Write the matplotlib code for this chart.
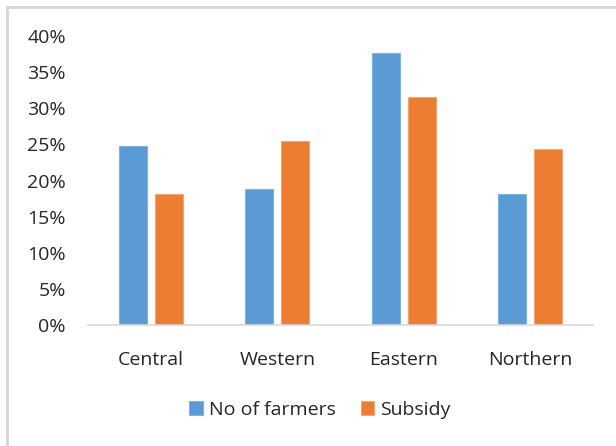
import matplotlib
matplotlib.use("Agg")
import matplotlib.pyplot as plt
import numpy as np
from matplotlib.patches import Rectangle
from matplotlib.ticker import FuncFormatter

categories = ["Central", "Western", "Eastern", "Northern"]
farmers = [0.248, 0.188, 0.376, 0.182]
subsidy = [0.182, 0.255, 0.315, 0.243]
series_names = ["No of farmers", "Subsidy"]
yticks = [0.0, 0.05, 0.10, 0.15, 0.20, 0.25, 0.30, 0.35, 0.40]

blue = "#5B9BD5"
orange = "#ED7D31"

plt.rcParams["font.family"] = ["Open Sans", "DejaVu Sans"]

W, H = 616, 446
fig = plt.figure(figsize=(W / 100, H / 100), dpi=100)

# chart frame (light grey, left and top edges visible)
fig.patches.append(Rectangle((7 / W, -0.1), 1.2, (H - 7) / H + 0.1,
                             transform=fig.transFigure, fill=False,
                             edgecolor="#D9D9D9", linewidth=2.2))

ax = fig.add_axes([88 / W, 1 - 325 / H, (593 - 88) / W, (325 - 36) / H])
x = np.arange(len(categories))
bw = 0.222
gap = 0.063
off = (bw + gap) / 2
ax.bar(x - off, farmers, bw, color=blue, edgecolor="#7FB2E0", linewidth=0.8,
       label=series_names[0])
ax.bar(x + off, subsidy, bw, color=orange, edgecolor="#F4A574", linewidth=0.8,
       label=series_names[1])

ax.set_xlim(-0.5, len(categories) - 0.5)
ax.set_ylim(0, 0.40)
ax.set_yticks(yticks)
ax.yaxis.set_major_formatter(FuncFormatter(lambda v, _: f"{v * 100:.0f}%"))
ax.set_xticks(x)
ax.set_xticklabels(categories)
ax.tick_params(axis="both", length=0, labelsize=14, colors="#262626")
ax.tick_params(axis="x", pad=19)
ax.tick_params(axis="y", pad=16)
for s in ["top", "right", "left"]:
    ax.spines[s].set_visible(False)
ax.spines["bottom"].set_color("#D9D9D9")
ax.spines["bottom"].set_linewidth(1.2)

leg = fig.legend(loc="center", bbox_to_anchor=(320 / W, 1 - 410 / H), ncol=2,
                 frameon=False, fontsize=14, handlelength=0.7,
                 handleheight=0.7, handletextpad=0.3, columnspacing=1.3)
for t in leg.get_texts():
    t.set_color("#262626")

fig.savefig("out.png", dpi=100)
